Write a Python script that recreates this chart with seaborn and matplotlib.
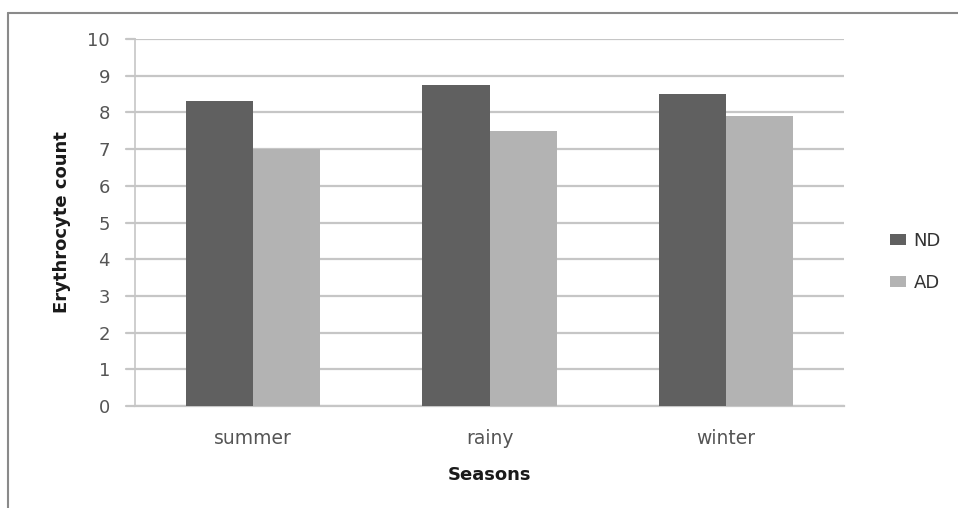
import matplotlib
matplotlib.use("Agg")
import matplotlib.pyplot as plt
from matplotlib.lines import Line2D
from matplotlib.patches import Patch
import seaborn as sns
import pandas as pd

seasons = ["summer", "rainy", "winter"]
groups = ["ND", "AD"]
nd_values = [8.3, 8.75, 8.5]
ad_values = [7.0, 7.5, 7.9]
y_ticks = list(range(0, 11))

df = pd.DataFrame({
    "Seasons": seasons * 2,
    "Group": [groups[0]] * 3 + [groups[1]] * 3,
    "Erythrocyte count": nd_values + ad_values,
})

sns.set_theme(style="white")
plt.rcParams["font.family"] = ["DejaVu Sans"]

colors = {"ND": "#606060", "AD": "#b3b3b3"}
grid_c = "#c6c6c6"
tick_c = "#555555"

fig = plt.figure(figsize=(9.58, 5.08), dpi=100)
ax = fig.add_axes([135 / 958, 1 - 406 / 508, (844 - 135) / 958, (406 - 39) / 508])

sns.barplot(data=df, x="Seasons", y="Erythrocyte count", hue="Group",
            palette=colors, width=0.567, gap=0, saturation=1,
            edgecolor="none", linewidth=0, ax=ax, legend=False, zorder=3)

ax.set_ylim(0, 10)
ax.set_xlim(-0.5, 2.5)
ax.set_yticks(y_ticks)
ax.set_yticklabels([str(t) for t in y_ticks], fontsize=13, color=tick_c)
ax.tick_params(axis="x", length=0, pad=16.5, labelsize=13.5, labelcolor=tick_c)
ax.tick_params(axis="y", length=0, pad=18)
ax.yaxis.grid(True, color=grid_c, linewidth=1.6, zorder=0)
ax.set_axisbelow(True)

# gridlines continue a little past the left axis like tick marks
for t in y_ticks:
    ax.add_line(Line2D([-0.5 - 0.038, -0.5], [t, t], color=grid_c, linewidth=1.6,
                       clip_on=False, zorder=1))

for side in ["top", "right"]:
    ax.spines[side].set_visible(False)
ax.spines["left"].set_color(grid_c)
ax.spines["left"].set_linewidth(1.2)
ax.spines["bottom"].set_color(grid_c)
ax.spines["bottom"].set_linewidth(1.6)

ax.set_xlabel("Seasons", fontsize=13, fontweight="bold", color="#1a1a1a", labelpad=13)
ax.set_ylabel("Erythrocyte count", fontsize=13, fontweight="bold", color="#1a1a1a", labelpad=12)

handles = [Patch(facecolor=colors[g], edgecolor="none", label=g) for g in groups]
fig.legend(handles=handles, loc="center left", bbox_to_anchor=(874 / 958, 1 - 262 / 508),
           frameon=False, fontsize=13, handlelength=0.85, handleheight=0.55,
           handletextpad=0.45, labelspacing=1.35, labelcolor="#333333")

# outer chart frame
frame_c = "#8a8a8a"
fig.add_artist(Line2D([8 / 958, 1.0], [1 - 13 / 508, 1 - 13 / 508], transform=fig.transFigure,
                      color=frame_c, linewidth=1.5))
fig.add_artist(Line2D([8 / 958, 8 / 958], [0.0, 1 - 13 / 508], transform=fig.transFigure,
                      color=frame_c, linewidth=1.5))

fig.savefig("out.png", dpi=100, facecolor="white")
